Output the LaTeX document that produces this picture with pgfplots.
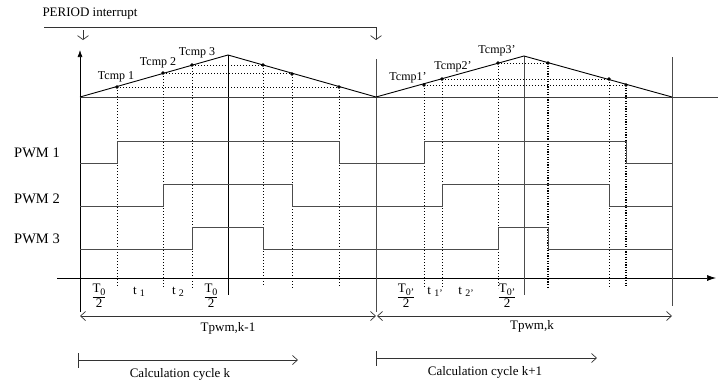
\documentclass[border=0pt]{standalone}
\usepackage{pgfplots}
\pgfplotsset{compat=1.18}
\usepackage{fontspec}
\setmainfont{Liberation Serif}
\usetikzlibrary{arrows.meta}
\newcommand{\sub}[1]{\raisebox{-2.5pt}{\fontsize{10}{10}\selectfont #1}}
\newcommand{\frc}[1]{\renewcommand\arraystretch{0.95}\begin{tabular}{@{}c@{}}T\sub{#1}\\\hline 2\end{tabular}}
\begin{document}
\begin{tikzpicture}
\tikzset{
  lbl/.style={font=\fontsize{13}{15}\selectfont, inner sep=0pt},
  tl/.style={font=\fontsize{12}{14}\selectfont, inner sep=0pt},
  pl/.style={font=\fontsize{14.5}{16}\selectfont, inner sep=0pt},
  dt/.style={black, line width=0.8pt, dash pattern=on 1pt off 2pt},
  dtk/.style={black, line width=1.1pt, dash pattern=on 1.1pt off 1.5pt},
}
\begin{axis}[
  scale only axis, width=725pt, height=381pt,
  xmin=0, xmax=725, ymin=0, ymax=381, y dir=reverse,
  hide axis, clip=false,
  every axis plot/.append style={no markers, line width=0.7pt},
]
% PERIOD interrupt
\addplot[black!80] coordinates {(44,27) (376,27)};
\addplot[black!80, -{Straight Barb[length=4pt,width=11pt]}] coordinates {(83,30) (83,40)};
\addplot[black!80, -{Straight Barb[length=4pt,width=11pt]}] coordinates {(376,27) (376,40)};
% axes
\addplot[black, -{Latex[length=7pt,width=5pt]}] coordinates {(80,312) (80,50)};
\addplot[black, -{Latex[length=9pt,width=6pt]}] coordinates {(57,278) (716,278)};
% solid verticals
\addplot[black] coordinates {(228,55) (228,295)};
\addplot[black!70] coordinates {(376,59) (376,312)};
\addplot[black!70] coordinates {(524,56) (524,295)};
\addplot[black!70] coordinates {(672,57) (672,306)};
% baseline of carrier
\addplot[black!75] coordinates {(80,97) (718,97)};
% triangle carrier
\addplot[black, line width=0.9pt] coordinates {(80,97) (228,55) (376,97) (524,56) (672,97)};
% dotted horizontals
\addplot[dt] coordinates {(117,87) (339,87)};
\addplot[dt] coordinates {(163,73) (292,73)};
\addplot[dt] coordinates {(192,65) (263,65)};
\addplot[dt] coordinates {(424,85) (626,85)};
\addplot[dt] coordinates {(442,79) (609,79)};
\addplot[dt] coordinates {(498,63) (548,63)};
% dotted verticals
\addplot[dt] coordinates {(117,87) (117,287)};
\addplot[dt] coordinates {(163,73) (163,288)};
\addplot[dt] coordinates {(192,65) (192,288)};
\addplot[dt] coordinates {(263,65) (263,286)};
\addplot[dt] coordinates {(292,74) (292,289)};
\addplot[dt] coordinates {(339,87) (339,287)};
\addplot[dt] coordinates {(424,85) (424,288)};
\addplot[dt] coordinates {(442,79) (442,288)};
\addplot[dt] coordinates {(498,63) (498,288)};
\addplot[dtk] coordinates {(548,63) (548,287)};
\addplot[dt] coordinates {(609,79) (609,287)};
\addplot[dtk] coordinates {(626,85) (626,287)};
% compare points
\addplot[only marks, mark=*, mark size=1.4pt, black] coordinates {(117,87) (163,73) (192,65) (263,65) (292,74) (339,87) (424,85) (442,79) (498,63) (548,63) (609,79) (626,85)};
% PWM signals
\addplot[black!70, line width=0.9pt] coordinates {(80,163) (117,163) (117,141) (339,141) (339,163) (424,163) (424,141) (626,141) (626,163) (672,163)};
\addplot[black!70, line width=0.9pt] coordinates {(80,206) (163,206) (163,184) (292,184) (292,206) (442,206) (442,184) (609,184) (609,206) (672,206)};
\addplot[black!70, line width=0.9pt] coordinates {(80,249) (192,249) (192,227) (263,227) (263,249) (498,249) (498,227) (548,227) (548,249) (672,249)};
% Tpwm arrows
\addplot[black!80, {Straight Barb[length=5pt,width=9pt]}-{Straight Barb[length=5pt,width=9pt]}] coordinates {(80,316) (376,316)};
\addplot[black!80, {Straight Barb[length=5pt,width=9pt]}-{Straight Barb[length=5pt,width=9pt]}] coordinates {(377,316) (672,316)};
% calculation cycles
\addplot[black!80, {Bar[width=15pt]}-{Straight Barb[length=5pt,width=9pt]}] coordinates {(78,360) (298,360)};
\addplot[black!80, {Bar[width=15pt]}-{Straight Barb[length=5pt,width=9pt]}] coordinates {(376,358) (597,358)};
% labels
\node[lbl] at (axis cs:90,14) {PERIOD interrupt};
\node[tl] at (axis cs:116,77) {Tcmp 1};
\node[tl] at (axis cs:158,63) {Tcmp 2};
\node[tl] at (axis cs:197,53) {Tcmp 3};
\node[tl] at (axis cs:408,78) {Tcmp1'};
\node[tl] at (axis cs:453,67) {Tcmp2'};
\node[tl] at (axis cs:497,51) {Tcmp3'};
\node[pl] at (axis cs:37,153) {PWM 1};
\node[pl] at (axis cs:37,199) {PWM 2};
\node[pl] at (axis cs:37,239) {PWM 3};
\node[lbl] at (axis cs:99,297) {\frc{0}};
\node[lbl] at (axis cs:211,297) {\frc{0}};
\node[lbl] at (axis cs:406,297) {\frc{0'}};
\node[lbl] at (axis cs:507,297) {\frc{0'}};
\node[lbl] at (axis cs:139,292) {t \sub{1}};
\node[lbl] at (axis cs:178,292) {t \sub{2}};
\node[lbl] at (axis cs:435,292) {t \sub{1'}};
\node[lbl] at (axis cs:466,292) {t \sub{2'}};
\node[lbl] at (axis cs:228,328) {Tpwm,k-1};
\node[lbl] at (axis cs:532,326) {Tpwm,k};
\node[lbl] at (axis cs:180,374) {Calculation cycle k};
\node[lbl] at (axis cs:485,372) {Calculation cycle k+1};
\end{axis}
\pgfresetboundingbox
\path (0,0) rectangle (725pt,381pt);
\end{tikzpicture}
\end{document}
